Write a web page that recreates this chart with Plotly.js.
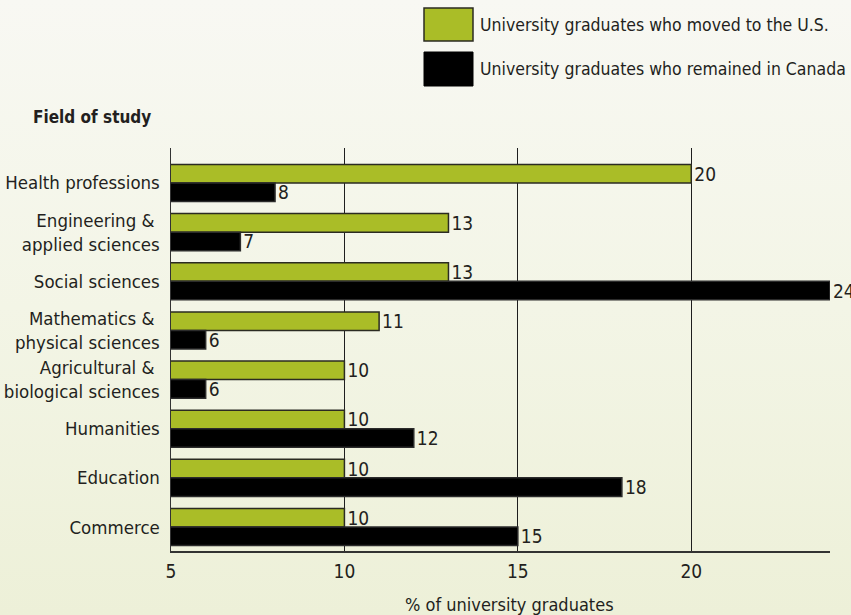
<!DOCTYPE html>
<html>
<head>
<meta charset="utf-8">
<script src="https://cdn.plot.ly/plotly-3.0.1.min.js"></script>
<style>
  html, body { margin: 0; padding: 0; }
  body { width: 851px; height: 615px; background: linear-gradient(to bottom, #f8f8f3 0%, #f3f5e6 50%, #edf0d8 100%); }
  #chart { width: 851px; height: 615px; }
</style>
</head>
<body>
<div id="chart"></div>
<script>
const categories = [
  'Health professions',
  'Engineering & <br>applied sciences',
  'Social sciences',
  'Mathematics & <br>physical sciences',
  'Agricultural & <br>biological sciences',
  'Humanities',
  'Education',
  'Commerce'
];
const movedToUS = [20, 13, 13, 11, 10, 10, 10, 10];
const remainedInCanada = [8, 7, 24, 6, 6, 12, 18, 15];
const xTickValues = [5, 10, 15, 20];
const seriesNames = ['University graduates who moved to the U.S.', 'University graduates who remained in Canada'];

const FONT = '"DejaVu Sans Condensed", "Liberation Sans Narrow", sans-serif';
const TXT = '#231f20';
const GREEN = '#aabd27';

const common = {
  type: 'bar', orientation: 'h', y: categories,
  textposition: 'outside', cliponaxis: false, constraintext: 'none',
  textfont: {family: FONT, size: 19, color: TXT},
  hoverinfo: 'skip'
};

const traces = [
  Object.assign({}, common, {
    name: seriesNames[0], x: movedToUS, text: movedToUS.map(String),
    marker: {color: GREEN, line: {color: '#2b2b22', width: 1.5}}
  }),
  Object.assign({}, common, {
    name: seriesNames[1], x: remainedInCanada, text: remainedInCanada.map(String),
    marker: {color: '#000000', line: {color: '#2b2b2b', width: 1.5}}
  })
];

// helpers to convert pixel to paper coords (plot area: x 171-830, y 148-551)
const L = 171, R = 830, T = 148, B = 551;
const px = v => (v - L) / (R - L);
const py = v => (B - v) / (B - T);

const layout = {
  width: 851, height: 615,
  margin: {l: L, r: 851 - R, t: T, b: 615 - B, pad: 0},
  paper_bgcolor: 'rgba(0,0,0,0)', plot_bgcolor: 'rgba(0,0,0,0)',
  barmode: 'group', bargap: 0.245, bargroupgap: 0,
  showlegend: false,
  font: {family: FONT, size: 19, color: TXT},
  xaxis: {
    range: [5, 24], tickvals: xTickValues, ticktext: xTickValues.map(String),
    showgrid: true, gridcolor: '#1e1e1e', gridwidth: 1.2,
    showline: true, linecolor: '#333333', linewidth: 1.5,
    zeroline: false, ticks: 'outside', ticklen: 3, tickcolor: 'rgba(0,0,0,0)',
    tickfont: {family: FONT, size: 19, color: TXT}, fixedrange: true
  },
  yaxis: {
    type: 'category', range: [7.488, -0.712],
    showgrid: false, showline: true, linecolor: '#333333', linewidth: 1.5,
    zeroline: false, ticks: 'outside', ticklen: 6, tickcolor: 'rgba(0,0,0,0)',
    tickfont: {family: FONT, size: 18.5, color: TXT}, fixedrange: true
  },
  shapes: [
    {type: 'rect', xref: 'paper', yref: 'paper', x0: px(424), x1: px(473), y0: py(41), y1: py(8),
     fillcolor: GREEN, line: {color: '#2b2b22', width: 1.5}},
    {type: 'rect', xref: 'paper', yref: 'paper', x0: px(424), x1: px(473), y0: py(86), y1: py(52),
     fillcolor: '#000000', line: {color: '#000000', width: 1}}
  ],
  annotations: [
    {xref: 'paper', yref: 'paper', x: px(478), y: py(25), xanchor: 'left', yanchor: 'middle',
     text: seriesNames[0], showarrow: false, font: {family: FONT, size: 17.5, color: TXT}},
    {xref: 'paper', yref: 'paper', x: px(478), y: py(69), xanchor: 'left', yanchor: 'middle',
     text: seriesNames[1], showarrow: false, font: {family: FONT, size: 17.5, color: TXT}},
    {xref: 'paper', yref: 'paper', x: px(153), y: py(117), xanchor: 'right', yanchor: 'middle',
     text: '<b>Field of study</b>', showarrow: false, font: {family: FONT, size: 17, color: TXT}},
    {xref: 'paper', yref: 'paper', x: px(509), y: py(604), xanchor: 'center', yanchor: 'middle',
     text: '% of university graduates', showarrow: false, font: {family: FONT, size: 18, color: TXT}}
  ]
};

Plotly.newPlot('chart', traces, layout, {displayModeBar: false, staticPlot: true});
</script>
</body>
</html>
